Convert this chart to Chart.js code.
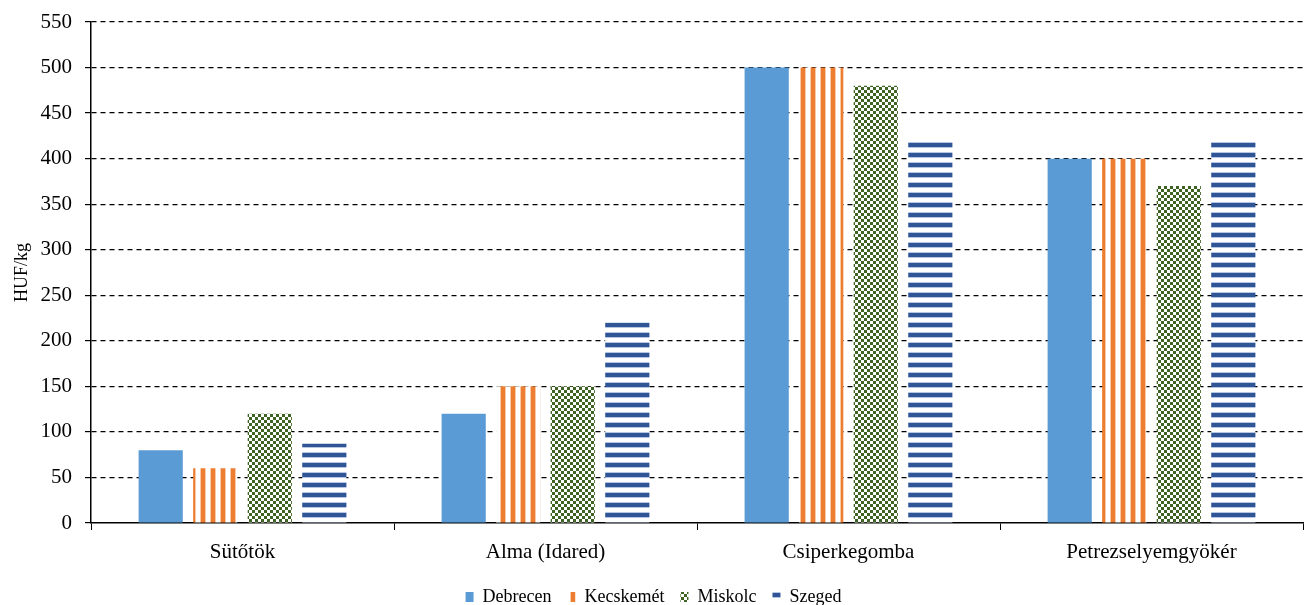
<!DOCTYPE html>
<html>
<head>
<meta charset="utf-8">
<script src="https://cdn.jsdelivr.net/npm/chart.js@4.4.0/dist/chart.umd.min.js"></script>
<style>
  html, body { margin: 0; padding: 0; background: #fff; }
  #wrap { width: 1305px; height: 605px; }
</style>
</head>
<body>
<div id="wrap"><canvas id="chart" width="1305" height="605"></canvas></div>
<script>
const categories = ['Sütőtök', 'Alma (Idared)', 'Csiperkegomba', 'Petrezselyemgyökér'];
const debrecen = [80, 120, 500, 400];
const kecskemet = [60, 150, 500, 400];
const miskolc = [120, 150, 480, 370];
const szeged = [87, 220, 420, 420];
const seriesNames = ['Debrecen', 'Kecskemét', 'Miskolc', 'Szeged'];

// small tile patterns like the office fills
function makePattern(w, h, draw) {
  const c = document.createElement('canvas');
  c.width = w;
  c.height = h;
  const g = c.getContext('2d');
  draw(g);
  return g.createPattern(c, 'repeat');
}

const orangeStripes = makePattern(10, 10, g => {
  g.fillStyle = '#fff';
  g.fillRect(0, 0, 10, 10);
  g.fillStyle = '#f8c9a6';
  g.fillRect(0, 0, 6, 10);
  g.fillStyle = '#ed7d31';
  g.fillRect(1, 0, 4, 10);
});

const greenChecker = makePattern(6, 6, g => {
  g.fillStyle = '#3f6322';
  g.fillRect(0, 0, 6, 6);
  g.fillStyle = '#fff';
  g.fillRect(3, 0, 3, 3);
  g.fillRect(0, 3, 3, 3);
});

const blueStripes = makePattern(10, 10, g => {
  g.fillStyle = '#fff';
  g.fillRect(0, 0, 10, 10);
  g.fillStyle = '#b7c6e2';
  g.fillRect(0, 2, 10, 6);
  g.fillStyle = '#2f5597';
  g.fillRect(0, 3, 10, 4);
});

const fills = ['#5b9bd5', orangeStripes, greenChecker, blueStripes];
const values = [debrecen, kecskemet, miskolc, szeged];

const serif = "'Liberation Serif', 'Times New Roman', serif";

new Chart(document.getElementById('chart'), {
  type: 'bar',
  data: {
    labels: categories,
    datasets: values.map((v, i) => ({
      label: seriesNames[i],
      data: v,
      backgroundColor: fills[i],
      borderWidth: 0,
      categoryPercentage: 0.72,
      barPercentage: 0.81
    }))
  },
  options: {
    responsive: false,
    animation: false,
    layout: { padding: { top: 22, right: 2, left: 4, bottom: -11 } },
    plugins: {
      tooltip: { enabled: false },
      legend: {
        position: 'bottom',
        labels: {
          font: { family: serif, size: 18 },
          color: '#000',
          boxWidth: 8,
          boxHeight: 10,
          padding: 16
        }
      }
    },
    scales: {
      x: {
        afterFit: s => { s.height = 49; },
        grid: {
          drawOnChartArea: false,
          drawTicks: true,
          tickLength: 7,
          color: '#000',
          offset: true
        },
        border: { color: '#000', width: 1.5 },
        ticks: {
          font: { family: serif, size: 21 },
          color: '#000',
          padding: 10
        }
      },
      y: {
        min: 0,
        max: 550,
        afterFit: s => {
          s.width = 87;
          s.paddingTop = 0;
          s.paddingBottom = 0;
        },
        ticks: {
          stepSize: 50,
          font: { family: serif, size: 21 },
          color: '#000',
          padding: 13
        },
        grid: {
          color: ctx => ctx.tick && ctx.tick.value === 0 ? 'rgba(0,0,0,0)' : '#000',
          tickColor: '#000',
          tickLength: 6,
          lineWidth: 1.2
        },
        border: { color: '#000', width: 1.5, dash: [5, 4] },
        title: {
          display: true,
          text: 'HUF/kg',
          font: { family: serif, size: 18 },
          color: '#000',
          padding: { top: 7, bottom: 0 }
        }
      }
    }
  }
});
</script>
</body>
</html>
